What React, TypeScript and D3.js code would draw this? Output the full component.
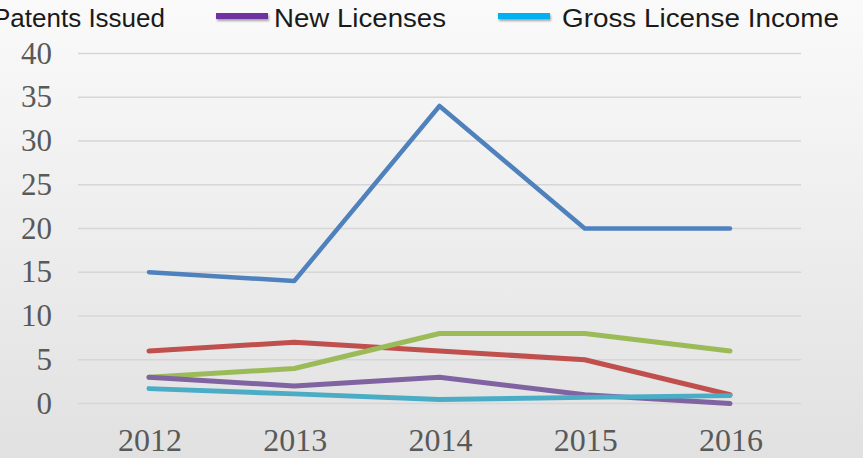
import React from "react";
import * as d3 from "d3";

const years = ["2012", "2013", "2014", "2015", "2016"];
const seriesNames = ["Series 1", "Series 2", "Patents Issued", "New Licenses", "Gross License Income"];
const seriesColors = ["#4F81BD", "#C0504D", "#9BBB59", "#8064A2", "#4BACC6"];
const blueValues = [15, 14, 34, 20, 20];
const redValues = [6, 7, 6, 5, 1];
const greenValues = [3, 4, 8, 8, 6];
const purpleValues = [3, 2, 3, 1, 0];
const cyanValues = [1.7, 1.1, 0.45, 0.7, 0.9];
const yTicks = [0, 5, 10, 15, 20, 25, 30, 35, 40];

const legendItems = [
  { name: seriesNames[2], color: "#9BBB59", swatch: null as null | number[], textStart: -7, textLen: 172 },
  { name: seriesNames[3], color: "#7030A0", swatch: [216, 268], textStart: 274, textLen: 172 },
  { name: seriesNames[4], color: "#00B0F0", swatch: [498, 550], textStart: 562, textLen: 277 },
];

export default function App() {
  const W = 863, H = 458;
  const x = d3.scalePoint<string>().domain(years).range([149, 730]);
  const y = d3.scaleLinear().domain([0, 40]).range([403.5, 53.5]);
  const all = [blueValues, redValues, greenValues, purpleValues, cyanValues];
  const line = d3
    .line<number>()
    .x((_, i) => x(years[i]) as number)
    .y((d) => y(d));
  return (
    <svg width={W} height={H} style={{ position: "absolute", left: 0, top: 0 }}>
      <defs>
        <linearGradient id="bg" x1="0" y1="0" x2="0" y2="1">
          <stop offset="0" stopColor="#fafafa" />
          <stop offset="1" stopColor="#e1e1e1" />
        </linearGradient>
        <filter id="sh" x="-20%" y="-100%" width="140%" height="400%">
          <feDropShadow dx="1" dy="2" stdDeviation="1.2" floodColor="#000" floodOpacity="0.35" />
        </filter>
      </defs>
      <rect x={0} y={0} width={W} height={H} fill="url(#bg)" />
      {yTicks.map((t) => (
        <g key={t}>
          <line x1={78} x2={801} y1={y(t)} y2={y(t)} stroke="#d6d6d6" strokeWidth={1.5} />
          <text
            x={52}
            y={y(t) + 10}
            textAnchor="end"
            fontFamily="'Liberation Serif', 'Times New Roman', serif"
            fontSize={31}
            fill="#595959"
          >
            {t}
          </text>
        </g>
      ))}
      {years.map((yr) => (
        <text
          key={yr}
          x={(x(yr) as number) + 1}
          y={451}
          textAnchor="middle"
          fontFamily="'Liberation Serif', 'Times New Roman', serif"
          fontSize={32}
          fill="#595959"
        >
          {yr}
        </text>
      ))}
      {all.map((vals, si) => (
        <path
          key={si}
          d={line(vals) || ""}
          fill="none"
          stroke={seriesColors[si]}
          strokeWidth={si === 0 ? 4.5 : 5}
          strokeLinejoin="round"
          strokeLinecap="round"
        />
      ))}
      {legendItems.map((it) => (
        <g key={it.name}>
          {it.swatch && (
            <rect
              x={it.swatch[0]}
              y={13}
              width={it.swatch[1] - it.swatch[0]}
              height={6}
              fill={it.color}
              filter="url(#sh)"
            />
          )}
          <text
            x={it.textStart}
            y={27}
            fontFamily="'Liberation Sans', sans-serif"
            fontSize={25}
            fill="#1a1a1a"
            textLength={it.textLen}
            lengthAdjust="spacingAndGlyphs"
          >
            {it.name}
          </text>
        </g>
      ))}
    </svg>
  );
}
